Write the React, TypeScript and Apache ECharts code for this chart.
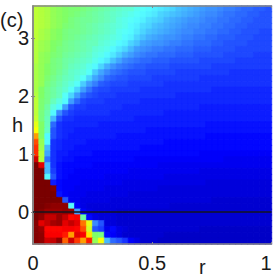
import React, { useEffect, useRef } from "react";
import * as echarts from "echarts";

const FONT = "'Liberation Sans Narrow', 'Liberation Sans', sans-serif";

const rCells = ["0.0125","0.0375","0.0625","0.0875","0.1125","0.1375","0.1625","0.1875","0.2125","0.2375","0.2625","0.2875","0.3125","0.3375","0.3625","0.3875","0.4125","0.4375","0.4625","0.4875","0.5125","0.5375","0.5625","0.5875","0.6125","0.6375","0.6625","0.6875","0.7125","0.7375","0.7625","0.7875","0.8125","0.8375","0.8625","0.8875","0.9125","0.9375","0.9625","0.9875"];
// bottom to top
const hCells = ["-0.5","-0.4","-0.3","-0.2","-0.1","0","0.1","0.2","0.3","0.4","0.5","0.6","0.7","0.8","0.9","1","1.1","1.2","1.3","1.4","1.5","1.6","1.7","1.8","1.9","2","2.1","2.2","2.3","2.4","2.5","2.6","2.7","2.8","2.9","3","3.1","3.2","3.3","3.4","3.5"];
const rTicks = [0, 0.5, 1];
const hTicks = ["0", "1", "2", "3"];

// cell values in percent, top row (h = 3.5) first, left column (r = 0) first
const cellRows: number[][] = [
[56,55,54,52,51,50,49,49,48,47,46,45,44,43,42,41,41,39,38,37,36,35,34,33,31,30,29,28,27,26,26,25,24,24,23,22,22,21,21,20],
[56,55,54,52,51,50,49,48,47,46,45,44,43,42,41,40,39,38,37,36,35,33,32,31,30,29,28,27,26,25,25,24,23,23,22,22,21,21,20,20],
[56,55,54,52,51,50,48,47,46,46,45,44,43,42,40,39,38,37,36,34,33,32,30,29,28,27,26,26,25,24,24,23,23,22,22,21,21,20,20,20],
[56,55,54,52,51,49,48,47,46,45,44,43,42,41,40,39,37,36,34,33,31,30,29,28,27,26,25,25,24,24,23,23,22,22,21,21,20,20,20,20],
[56,54,53,51,50,48,47,47,46,45,44,43,42,41,39,38,37,35,33,31,30,29,28,27,26,25,25,24,24,23,23,22,22,21,21,20,20,20,19,19],
[56,54,53,51,50,48,47,46,45,44,43,42,41,40,39,37,36,33,31,29,28,27,26,26,25,24,24,23,23,22,22,21,21,21,20,20,20,19,19,19],
[55,53,52,50,49,47,46,45,44,43,43,41,40,39,37,36,33,31,28,27,26,26,25,24,24,23,23,22,22,22,21,21,20,20,20,20,19,19,19,19],
[55,53,52,50,48,47,46,45,44,43,41,40,39,37,35,33,30,27,26,25,24,24,23,23,22,22,22,21,21,21,20,20,20,20,19,19,19,19,19,19],
[55,52,51,49,48,46,45,44,43,42,40,39,37,35,32,29,27,25,24,23,23,22,22,22,21,21,21,20,20,20,20,20,19,19,19,19,19,18,18,18],
[55,52,51,48,47,45,44,43,42,41,39,37,35,31,28,25,24,23,22,22,21,21,21,20,20,20,20,20,19,19,19,19,19,19,18,18,18,18,18,18],
[54,52,50,48,47,45,43,42,41,39,37,33,29,26,24,23,22,21,21,20,20,20,20,19,19,19,19,19,19,19,18,18,18,18,18,18,18,18,18,18],
[54,52,50,48,46,44,42,41,40,38,32,28,25,23,22,21,20,20,20,19,19,19,19,19,18,18,18,18,18,18,18,18,18,17,17,17,17,17,17,17],
[54,52,49,47,45,43,42,40,38,33,28,25,22,21,20,20,19,19,19,19,18,18,18,18,18,18,18,18,17,17,17,17,17,17,17,17,17,17,17,17],
[54,52,48,46,44,42,40,38,32,27,24,21,20,19,19,19,18,18,18,18,18,18,17,17,17,17,17,17,17,17,17,17,17,17,17,17,17,17,17,17],
[54,50,47,45,43,41,38,33,27,23,20,19,19,18,18,18,18,18,17,17,17,17,17,17,17,17,17,17,17,17,16,16,16,16,16,16,16,16,16,16],
[55,50,47,45,43,38,33,27,22,20,19,18,18,18,17,17,17,17,17,17,17,17,17,17,16,16,16,16,16,16,16,16,16,16,16,16,16,16,16,16],
[56,49,47,43,40,37,27,22,19,18,18,18,17,17,17,17,17,17,16,16,16,16,16,16,16,16,16,16,16,16,16,16,16,16,16,16,16,16,16,16],
[56,49,45,40,37,27,20,18,18,17,17,17,17,17,17,16,16,16,16,16,16,16,16,16,16,16,16,16,15,15,15,15,15,15,15,15,15,15,15,15],
[56,48,44,37,25,20,18,17,17,17,17,17,17,16,16,16,16,16,16,16,16,16,15,15,15,15,15,15,15,15,15,15,15,15,15,15,15,15,15,15],
[57,48,43,30,20,17,17,16,16,16,16,16,16,16,16,16,16,15,15,15,15,15,15,15,15,15,15,15,15,15,15,15,15,15,15,15,15,15,15,15],
[60,50,43,22,17,16,16,16,16,16,16,15,15,15,15,15,15,15,15,15,15,15,15,15,15,15,15,15,15,14,14,14,14,14,14,14,14,14,14,14],
[62,50,42,20,17,16,16,15,15,15,15,15,15,15,15,15,15,15,15,14,14,14,14,14,14,14,14,14,14,14,14,14,14,14,14,14,14,14,14,14],
[72,50,37,20,17,16,15,15,15,15,15,15,15,15,14,14,14,14,14,14,14,14,14,14,14,14,14,14,14,13,13,13,13,13,13,13,13,13,13,13],
[80,52,37,17,16,15,15,15,15,14,14,14,14,14,14,14,14,14,14,14,14,14,13,13,13,13,13,13,13,13,13,13,13,13,13,13,13,13,13,13],
[83,53,30,17,16,15,15,14,14,14,14,14,14,14,14,14,14,14,13,13,13,13,13,13,13,13,13,13,13,13,13,13,13,13,13,13,13,13,13,13],
[83,55,28,17,15,15,14,14,14,14,13,13,13,13,13,13,13,13,13,13,13,13,13,13,13,13,13,13,12,12,12,12,12,12,12,12,12,12,12,12],
[92,55,23,17,15,14,14,13,13,13,13,13,13,13,13,13,13,12,12,12,12,12,12,12,12,12,12,12,12,12,12,12,11,11,11,11,11,11,11,11],
[100,90,30,17,14,13,13,13,13,13,12,12,12,12,12,12,12,12,12,12,12,11,11,11,11,11,11,11,11,11,11,11,11,11,11,11,11,11,11,11],
[100,100,30,18,14,13,13,12,12,12,12,12,12,12,12,12,11,11,11,11,11,11,11,11,11,11,11,11,10,10,10,10,10,10,10,10,10,10,10,10],
[100,100,37,20,14,13,12,12,12,12,12,12,11,11,11,11,11,11,11,11,11,11,10,10,10,10,10,10,10,10,10,10,10,10,10,10,10,10,10,10],
[100,100,100,15,13,12,12,12,11,11,11,11,11,11,11,10,10,10,10,10,10,10,10,10,10,10,10,10,10,9,9,9,9,9,9,9,9,9,9,9],
[100,100,100,99,13,12,12,11,11,11,11,11,10,10,10,10,10,10,10,10,10,9,9,9,9,9,9,9,9,9,9,9,9,9,9,9,9,9,9,9],
[100,100,100,100,14,12,11,11,11,10,10,10,10,10,10,10,9,9,9,9,9,9,9,9,9,9,9,9,9,9,9,9,9,9,9,9,9,9,9,9],
[100,100,100,100,100,20,11,11,10,10,10,10,10,9,9,9,9,9,9,9,9,9,9,9,9,9,9,9,9,9,8,8,8,8,8,8,8,8,8,8],
[100,100,99,98,98,98,37,12,10,9,9,9,9,9,9,9,9,9,9,9,9,9,9,8,8,8,8,8,8,8,8,8,8,8,8,8,8,8,8,8],
[100,99,97,97,97,98,97,27,12,10,9,9,9,9,8,8,8,8,8,8,8,8,8,8,8,8,8,8,8,8,8,8,8,8,8,8,8,8,8,8],
[100,98,93,93,97,93,87,88,45,13,10,9,9,9,8,8,8,8,8,8,8,8,8,8,8,8,8,8,8,8,8,8,8,8,8,8,8,8,8,8],
[99,90,93,96,97,90,93,90,76,60,25,20,9,9,8,8,8,8,8,8,8,8,8,8,8,8,8,8,8,8,8,8,8,8,8,8,8,8,8,8],
[99,97,87,87,87,88,88,87,80,58,20,18,11,13,10,9,8,8,8,8,8,8,8,8,8,8,8,8,7,7,7,7,7,7,7,7,7,7,7,7],
[99,98,88,88,88,85,72,90,88,65,50,48,13,12,10,8,8,8,8,8,8,8,7,7,7,7,7,7,7,7,7,7,7,7,7,7,7,7,7,7],
[99,98,92,93,98,78,92,82,72,85,52,62,30,22,20,17,12,10,8,8,8,7,7,7,7,7,7,7,7,7,7,7,7,7,7,7,7,7,7,7],
];

const jet = ["#00007f","#0000ff","#3a8aff","#55ffff","#80ff66","#ffff00","#ff7f00","#ff0000","#7a0000"];
const frame = "#888888";
const heatData = cellRows.flatMap((row, i) =>
  row.map((v, j) => ({
    value: [j, hCells.length - 1 - i, v],
    itemStyle: { borderColor: echarts.color.lerp(v / 100, jet), borderWidth: 0.6 },
  }))
);

export default function App() {
  const ref = useRef<HTMLDivElement>(null);
  useEffect(() => {
    const chart = echarts.init(ref.current!, undefined, { renderer: "svg" });
    const showH = (_: number, name: string) => hTicks.includes(name);
    const valueAxisBase = {
      type: "value" as const,
      min: 0,
      max: 1,
      interval: 0.5,
      z: 5,
      splitLine: { show: false },
      axisLine: { show: true, lineStyle: { color: frame, width: 1.5 } },
      axisTick: { show: true, inside: true, length: 2, lineStyle: { color: frame, width: 1 } },
    };
    chart.setOption({
      animation: false,
      backgroundColor: "#ffffff",
      grid: { left: 33, top: 6, width: 238.5, height: 238, containLabel: false, outerBoundsMode: "none" },
      visualMap: { show: false, min: 0, max: 100, dimension: 2, inRange: { color: jet } },
      xAxis: [
        { type: "category", data: rCells, show: false },
        {
          ...valueAxisBase,
          position: "bottom",
          name: "r",
          nameLocation: "middle",
          nameGap: 13,
          nameMoveOverlap: false,
          nameTextStyle: { fontFamily: FONT, fontSize: 20, color: "#1a1a1a", padding: [0, 0, 0, 100] },
          axisLabel: {
            show: true,
            margin: 9,
            fontFamily: FONT,
            fontSize: 20,
            color: "#1a1a1a",
            alignMaxLabel: "right",
            customValues: rTicks,
            formatter: (v: number) => String(v),
          },
        },
        { ...valueAxisBase, position: "top", axisLabel: { show: false } },
      ],
      yAxis: [
        {
          type: "category",
          data: hCells,
          position: "left",
          z: 5,
          name: "h",
          nameLocation: "middle",
          nameGap: 10,
          nameRotate: 0,
          nameMoveOverlap: false,
          nameTextStyle: { fontFamily: FONT, fontSize: 20, color: "#1a1a1a", padding: [6, 0, 0, 0] },
          axisLine: { show: true, lineStyle: { color: frame, width: 1.5 } },
          axisTick: { show: true, inside: true, length: 2, alignWithLabel: true, interval: showH, lineStyle: { color: frame, width: 1 } },
          axisLabel: { show: true, interval: showH, margin: 4, fontFamily: FONT, fontSize: 20, color: "#1a1a1a" },
        },
        {
          type: "category",
          data: hCells,
          position: "right",
          z: 5,
          axisLine: { show: true, lineStyle: { color: frame, width: 1.5 } },
          axisTick: { show: true, inside: true, length: 2, alignWithLabel: true, interval: showH, lineStyle: { color: frame, width: 1 } },
          axisLabel: { show: false },
        },
      ],
      series: [
        {
          type: "heatmap",
          xAxisIndex: 0,
          yAxisIndex: 0,
          data: heatData,
          progressive: 0,
          emphasis: { disabled: true },
          z: 2,
        },
        {
          type: "line",
          xAxisIndex: 1,
          yAxisIndex: 0,
          data: [[0, "0"], [1, "0"]],
          showSymbol: false,
          symbol: "none",
          lineStyle: { color: "#14141e", width: 1.5 },
          z: 6,
        },
      ],
      graphic: [
        {
          type: "text",
          left: 0,
          top: 10,
          style: { text: "(c)", fontFamily: FONT, fontSize: 20, fill: "#1a1a1a" },
        },
      ],
    });
    return () => chart.dispose();
  }, []);
  return <div ref={ref} style={{ position: "fixed", left: 0, top: 0, width: 277, height: 277 }} />;
}
